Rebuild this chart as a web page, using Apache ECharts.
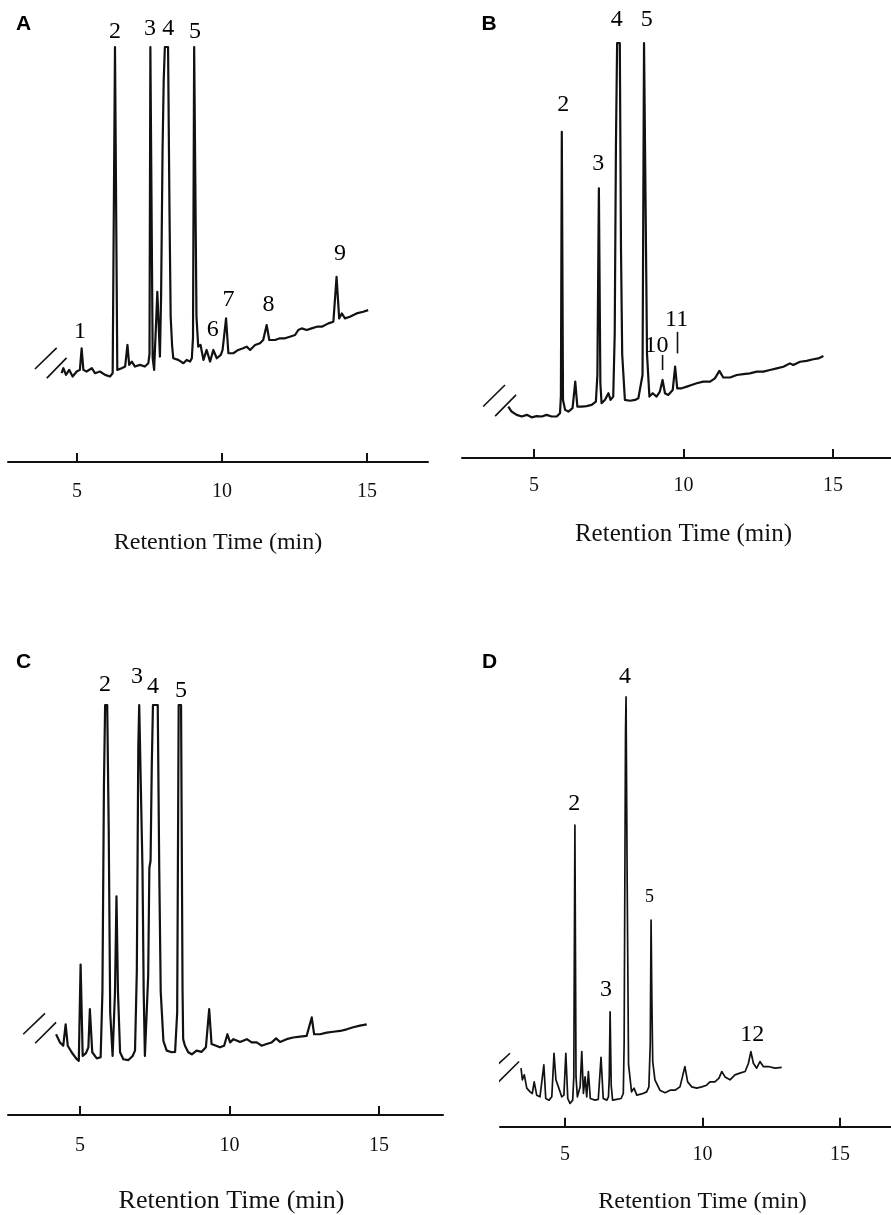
<!DOCTYPE html>
<html>
<head>
<meta charset="utf-8">
<script src="https://cdn.jsdelivr.net/npm/echarts@6/dist/echarts.min.js"></script>
<style>
html,body{margin:0;padding:0;background:#fff;}
#chart{width:891px;height:1215px;}
</style>
</head>
<body>
<div id="chart"></div>
<script>
// ---------- DATA (retention time in min, detector signal in relative units) ----------
const xTicks = [5, 10, 15];
const axisTitle = 'Retention Time (min)';
const panelLetters = ['A', 'B', 'C', 'D'];

const traceA = [[4.47,21.4],[4.53,22.6],[4.62,21.0],[4.73,22.2],[4.85,20.6],[4.99,21.8],[5.10,22.2],[5.16,27.4],[5.22,22.2],[5.33,21.8],[5.51,22.6],[5.62,21.4],[5.79,21.8],[5.97,21.0],[6.14,20.6],[6.23,21.4],
[6.27,21.5],[6.31,100],[6.35,100],[6.39,22.2],
[6.54,22.6],[6.66,23.0],[6.74,28.2],[6.80,23.4],[6.89,24.2],[7.0,23.0],[7.17,23.4],[7.34,23.0],[7.46,23.8],
[7.50,26],[7.53,100],[7.57,100],[7.61,25],
[7.66,22.2],[7.77,41.0],[7.86,25.4],
[7.90,40],[7.95,75],[7.99,92],[8.03,100],[8.14,100],[8.19,60],[8.23,35],[8.28,28],
[8.32,25.0],[8.49,24.6],[8.67,23.8],[8.78,24.6],[8.90,24.2],[8.96,25.0],
[9.00,30],[9.04,100],[9.08,100],[9.12,35],
[9.18,27.8],[9.26,28.2],[9.36,24.6],[9.47,27.0],[9.59,24.2],[9.70,27.0],[9.82,25.0],[9.96,25.8],[10.02,27.0],[10.14,34.6],[10.22,26.2],[10.39,26.2],[10.56,27.0],[10.73,27.4],[10.85,27.8],[10.97,27.0],[11.14,28.2],[11.31,28.6],[11.42,29.4],[11.54,33.0],[11.63,29.4],[11.83,29.4],[12.0,29.8],[12.17,29.8],[12.34,30.2],[12.52,30.6],[12.63,31.8],[12.75,32.2],[12.92,31.8],[13.09,32.2],[13.27,32.6],[13.44,32.6],[13.67,33.4],[13.84,33.8],[13.95,44.6],[14.04,34.6],[14.13,35.8],[14.24,34.6],[14.41,35.0],[14.64,35.8],[14.87,36.2],[15.04,36.6]];
const labelsA = [['1',5.1,31.5],['2',6.31,103.7],['3',7.52,104.5],['4',8.15,104.5],['5',9.07,103.7],['6',9.68,31.8],['7',10.22,39.0],['8',11.6,37.8],['9',14.07,50.3]];
const breaksA = [[[3.55,22.4],[4.30,27.5]],[[3.96,20.2],[4.64,25.1]]];

const traceB = [[4.14,12.4],[4.25,11.2],[4.42,10.4],[4.59,10.0],[4.76,10.4],[4.92,9.8],[5.09,10.1],[5.26,10.0],[5.42,10.4],[5.59,10.0],[5.76,10.0],[5.87,10.8],
[5.90,15],[5.93,78.6],[5.97,14],
[6.04,11.6],[6.15,11.2],[6.29,12.0],[6.38,18.4],[6.45,12.4],[6.60,12.4],[6.76,12.5],[6.93,12.8],[7.07,13.6],
[7.12,20],[7.17,65.0],[7.22,18],
[7.26,13.2],[7.37,14.0],[7.49,15.6],[7.56,14.0],[7.65,14.8],
[7.70,30],[7.74,75],[7.78,100],[7.87,100],[7.91,50],[7.95,25],
[8.04,14.0],[8.21,13.8],[8.38,14.0],[8.49,14.4],
[8.63,20],[8.68,100],[8.73,100],[8.78,25],
[8.86,14.8],[8.97,15.6],[9.10,14.8],[9.21,16.0],[9.30,18.8],[9.38,15.6],[9.49,15.2],[9.64,16.4],[9.72,22.0],[9.79,16.8],[9.94,16.8],[10.11,17.2],[10.27,17.6],[10.44,18.0],[10.66,18.4],[10.89,18.4],[11.05,19.2],[11.20,21.0],[11.33,19.4],[11.56,19.4],[11.78,20.0],[12.0,20.2],[12.22,20.4],[12.45,20.8],[12.67,20.8],[12.89,21.2],[13.12,21.6],[13.34,22.0],[13.56,22.8],[13.67,22.4],[13.90,23.2],[14.12,23.4],[14.34,23.8],[14.51,24.0],[14.68,24.6]];
const labelsB = [['2',5.98,85.1],['3',7.15,71.0],['4',7.77,105.5],['5',8.77,105.5],['10',9.10,27.1],['11',9.77,33.4]];
const breaksB = [[[3.30,12.4],[4.03,17.6]],[[3.70,10.1],[4.40,15.2]]];
const pointersB = [[[9.30,21.2],[9.30,24.8]],[[9.80,25.2],[9.80,30.4]]];

const traceC = [[4.20,19.7],[4.24,20.1],[4.33,17.7],[4.44,16.9],[4.52,22.1],[4.59,16.9],[4.72,15.3],[4.87,13.8],[4.96,13.2],[5.02,36.7],[5.09,14.4],[5.20,15.1],[5.28,16.5],[5.33,25.8],[5.41,15.3],[5.56,13.8],[5.69,14.1],
[5.75,30],[5.80,80],[5.84,100],[5.91,100],[5.96,70],[6.01,25],
[6.09,14.4],
[6.17,30],[6.22,53.3],[6.27,30],
[6.34,15.3],[6.45,13.6],[6.62,13.4],[6.76,14.4],[6.84,15.7],
[6.90,35],[6.95,90],[6.98,100],[7.04,100],[7.09,60],[7.13,30],
[7.17,14.4],[7.28,33.9],[7.32,60.3],[7.36,62],[7.40,85],[7.44,100],[7.60,100],[7.65,60],[7.70,30],[7.79,18],
[7.90,15.7],[8.07,15.3],[8.18,15.4],
[8.25,25],[8.30,100],[8.38,100],[8.43,30],
[8.45,18.5],[8.51,16.9],[8.62,15.3],[8.74,14.8],[8.90,15.7],[9.07,15.4],[9.21,16.5],[9.32,25.8],[9.40,17.3],[9.55,16.9],[9.68,16.5],[9.82,16.9],[9.93,19.7],[10.02,17.7],[10.13,18.5],[10.26,18.1],[10.35,17.8],[10.58,18.5],[10.74,17.7],[10.91,17.7],[11.07,16.9],[11.24,17.3],[11.41,17.7],[11.56,18.7],[11.69,17.8],[11.91,18.5],[12.13,18.9],[12.36,19.1],[12.58,19.3],[12.75,23.8],[12.83,19.7],[13.03,19.7],[13.25,20.1],[13.47,20.3],[13.70,20.5],[13.92,20.9],[14.14,21.4],[14.36,21.8],[14.59,22.1]];
const labelsC = [['2',5.84,104.9],['3',6.91,106.8],['4',7.44,104.4],['5',8.38,103.6]];
const breaksC = [[[3.10,19.7],[3.83,24.8]],[[3.50,17.5],[4.20,22.6]]];

const traceD = [[3.40,14.1],[3.45,11.3],[3.52,12.5],[3.61,9.3],[3.73,8.4],[3.81,8.0],[3.88,10.8],[3.97,7.6],[4.09,7.2],[4.23,14.9],[4.30,6.8],[4.42,6.4],[4.52,7.2],[4.60,17.7],[4.67,11.3],[4.76,9.6],[4.88,7.2],[4.96,7.6],[5.03,17.7],[5.10,6.8],[5.18,5.6],[5.28,6.4],
[5.32,12],[5.36,72.7],[5.40,12],
[5.45,7.2],[5.55,9.6],[5.61,18.1],[5.67,8.0],[5.73,12.0],[5.79,7.2],[5.85,13.3],[5.92,6.8],[6.09,6.4],[6.21,6.6],[6.31,16.7],[6.39,6.8],[6.52,6.4],[6.58,7.2],
[6.61,12],[6.64,27.7],[6.68,10],
[6.73,6.4],[6.88,6.6],[7.04,6.8],[7.12,8.0],
[7.15,20],[7.20,95],[7.22,103.6],[7.26,60],[7.31,15],
[7.42,8.4],[7.51,9.3],[7.61,7.6],[7.79,7.9],[7.97,8.4],[8.05,9.6],
[8.10,20],[8.13,49.8],[8.16,30],
[8.19,15.7],[8.27,11.3],[8.45,8.8],[8.64,8.2],[8.82,8.8],[9.0,8.8],[9.18,9.6],[9.27,12.0],[9.36,14.5],[9.46,10.8],[9.61,9.6],[9.79,9.3],[9.97,9.6],[10.15,10.0],[10.27,10.8],[10.45,10.8],[10.60,11.7],[10.70,13.3],[10.82,12.0],[11.0,11.3],[11.18,12.5],[11.36,12.9],[11.55,13.3],[11.67,15.3],[11.76,18.1],[11.85,15.3],[11.97,14.1],[12.09,15.7],[12.21,14.5],[12.39,14.5],[12.64,14.1],[12.88,14.3]];
const labelsD = [['2',5.34,77.9],['3',6.49,32.9],['4',7.18,108.4],['5',8.07,55.4],['12',11.81,22.1]];
const breaksD = [[[2.31,13.5],[3.0,17.7]],[[2.58,10.8],[3.33,15.7]]];

// ---------- LAYOUT / STYLE ----------
const INK = '#111111';
const SERIF = '"Liberation Serif", "DejaVu Serif", serif';
const panels = [
  {trace: traceA, labels: labelsA, breaks: breaksA, pointers: [], grid: {left: 8, top: 5.5, width: 420, height: 456.5}, xMin: 2.621, xMax: 17.103, yMax: 110, labelMargin: 20, nameGap: 69, nameSize: 24, namePad: 0, lw: 2.2, letterPos: [26, 25.5]},
  {trace: traceB, labels: labelsB, breaks: breaksB, pointers: pointersB, grid: {left: 462, top: 1.5, width: 429, height: 456.5}, xMin: 2.592, xMax: 16.94, yMax: 110, labelMargin: 18, nameGap: 64, nameSize: 25, namePad: 14, lw: 2.2, letterPos: [491.5, 25.5]},
  {trace: traceC, labels: labelsC, breaks: breaksC, pointers: [], grid: {left: 8, top: 664, width: 435, height: 452}, xMin: 2.592, xMax: 17.14, yMax: 110, labelMargin: 21, nameGap: 73, nameSize: 26, namePad: 12, lw: 2.2, letterPos: [26, 663.5]},
  {trace: traceD, labels: labelsD, breaks: breaksD, pointers: [], grid: {left: 500, top: 649.5, width: 391, height: 477.2}, xMin: 2.636, xMax: 16.855, yMax: 115, labelMargin: 18, nameGap: 63, nameSize: 24, namePad: 14, lw: 1.7, letterPos: [492, 663.5], smallLabel: '5'}
];

const grids = [], xAxes = [], yAxes = [], series = [], graphics = [];
panels.forEach((p, i) => {
  grids.push(Object.assign({containLabel: false}, p.grid));
  xAxes.push({
    type: 'value', gridIndex: i, min: p.xMin, max: p.xMax,
    axisLine: {show: true, onZero: false, lineStyle: {color: INK, width: 2}},
    axisTick: {show: true, inside: true, length: 9, customValues: xTicks, lineStyle: {color: INK, width: 2}},
    axisLabel: {show: true, customValues: xTicks, margin: p.labelMargin, color: INK, fontFamily: SERIF, fontSize: 20},
    splitLine: {show: false},
    name: axisTitle, nameLocation: 'middle', nameGap: p.nameGap,
    nameTextStyle: {color: INK, fontFamily: SERIF, fontSize: p.nameSize, padding: [0, 0, 0, p.namePad]}
  });
  yAxes.push({type: 'value', gridIndex: i, min: 0, max: p.yMax, show: false, splitLine: {show: false}});
  series.push({
    type: 'line', xAxisIndex: i, yAxisIndex: i, data: p.trace, showSymbol: false, symbol: 'none',
    lineStyle: {color: INK, width: p.lw, join: 'round'}, clip: true, silent: true, z: 3
  });
  p.breaks.concat(p.pointers).forEach(seg => {
    series.push({
      type: 'line', xAxisIndex: i, yAxisIndex: i, data: seg, symbol: 'none', clip: false, silent: true,
      lineStyle: {color: INK, width: 1.6}, z: 3
    });
  });
  series.push({
    type: 'scatter', xAxisIndex: i, yAxisIndex: i, symbolSize: 0, clip: false, silent: true, z: 4,
    itemStyle: {color: INK, opacity: 1},
    data: p.labels.map(l => ({
      value: [l[1], l[2]], name: l[0],
      label: (p.smallLabel === l[0]) ? {fontSize: 18} : undefined
    })),
    label: {show: true, position: 'inside', formatter: q => q.name, color: '#000', opacity: 1,
            textBorderWidth: 0, textBorderColor: 'transparent', fontFamily: SERIF, fontSize: 24}
  });
  graphics.push({
    type: 'text', left: p.letterPos[0] - 10, top: p.letterPos[1] - 12,
    style: {text: panelLetters[i], font: 'bold 21px "Liberation Sans", Arial, sans-serif', fill: '#000'}
  });
});

const chart = echarts.init(document.getElementById('chart'), null, {renderer: 'canvas'});
chart.setOption({
  backgroundColor: '#ffffff',
  animation: false,
  grid: grids, xAxis: xAxes, yAxis: yAxes, series: series, graphic: graphics
});
</script>
</body>
</html>
